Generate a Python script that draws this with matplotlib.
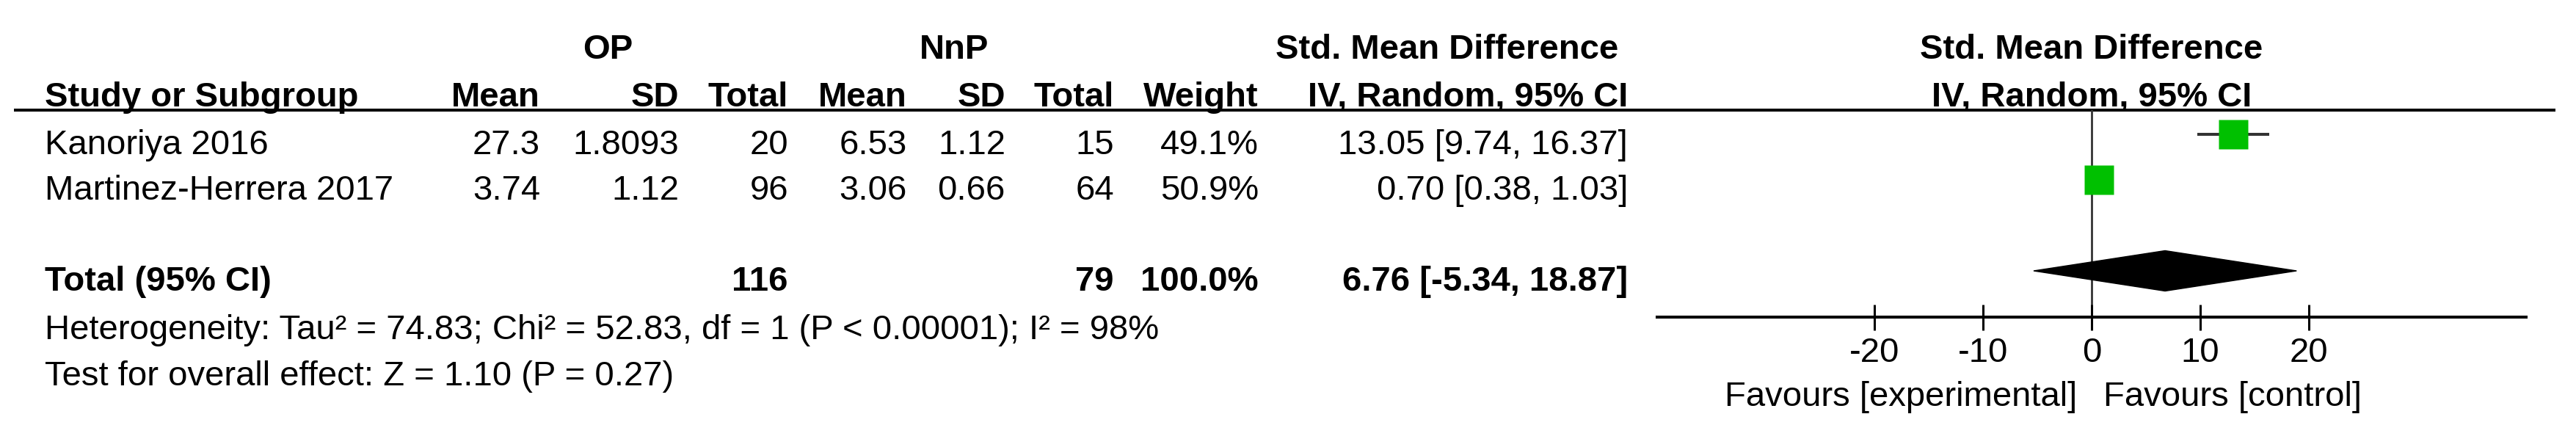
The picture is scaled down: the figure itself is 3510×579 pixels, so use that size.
import matplotlib
matplotlib.use("Agg")
import matplotlib.pyplot as plt
from matplotlib.patches import Polygon
from matplotlib.transforms import blended_transform_factory

plt.rcParams['font.family'] = ['Liberation Sans', 'DejaVu Sans']
plt.rcParams['axes.unicode_minus'] = False

# ---------------- data ----------------
studies = ["Kanoriya 2016", "Martinez-Herrera 2017"]
op_mean = ["27.3", "3.74"]
op_sd = ["1.8093", "1.12"]
op_total = [20, 96]
nnp_mean = ["6.53", "3.06"]
nnp_sd = ["1.12", "0.66"]
nnp_total = [15, 64]
weights = [49.1, 50.9]
smd = [13.05, 0.70]
ci_low = [9.74, 0.38]
ci_high = [16.37, 1.03]

total_label = "Total (95% CI)"
total_op = 116
total_nnp = 79
total_weight = 100.0
total_smd = 6.76
total_low = -5.34
total_high = 18.87

heterogeneity = "Heterogeneity: Tau\u00b2 = 74.83; Chi\u00b2 = 52.83, df = 1 (P < 0.00001); I\u00b2 = 98%"
overall = "Test for overall effect: Z = 1.10 (P = 0.27)"
x_ticks = [-20, -10, 0, 10, 20]
x_range = [-40, 40]
favours_left = "Favours [experimental]"
favours_right = "Favours [control]"

# ---------------- layout ----------------
W, H = 3510, 579
DPI = 100
FS = 34
GREEN = '#00C000'
DARK = '#333333'

fig = plt.figure(figsize=(W / DPI, H / DPI), dpi=DPI)
fig.patch.set_facecolor('white')
tab = fig.add_axes([0, 0, 1, 1])
tab.set_xlim(0, W)
tab.set_ylim(H, 0)
tab.axis('off')

X_LEFT = 61
C_OP_MEAN, C_OP_SD, C_OP_TOT = 736, 925, 1074
C_NNP_MEAN, C_NNP_SD, C_NNP_TOT = 1236, 1370, 1518
C_WEIGHT, C_CI = 1715, 2218

ROW0_PX, ROW_PITCH = 183, 62
TEXT_DY = 27  # baseline offset below row centre
TOTAL_ROW = 3

HDR1_Y, HDR2_Y, HLINE_Y = 80, 145, 150
HET_Y, OVR_Y = 462, 525
FAV_Y = 553

PX0, PX1, AX_Y = 2258, 3442, 432


def txt(x, y, s, ha='right', bold=False, **kw):
    tab.text(x, y, s, ha=ha, va='baseline', fontsize=FS,
             fontweight='bold' if bold else 'normal', color='black', **kw)


# top header
txt(828, HDR1_Y, "OP", ha='center', bold=True)
txt(1300, HDR1_Y, "NnP", ha='center', bold=True)
txt(1972, HDR1_Y, "Std. Mean Difference", ha='center', bold=True)

txt(X_LEFT, HDR2_Y, "Study or Subgroup", ha='left', bold=True)
for x, s in [(C_OP_MEAN, "Mean"), (C_OP_SD, "SD"), (C_OP_TOT, "Total"),
             (C_NNP_MEAN, "Mean"), (C_NNP_SD, "SD"), (C_NNP_TOT, "Total"),
             (C_WEIGHT, "Weight"), (C_CI, "IV, Random, 95% CI")]:
    txt(x, HDR2_Y, s, bold=True)

tab.hlines(HLINE_Y, 19, 3482, color='black', lw=2.9)

# study rows
for i, name in enumerate(studies):
    y = ROW0_PX + ROW_PITCH * i + TEXT_DY
    txt(X_LEFT, y, name, ha='left')
    txt(C_OP_MEAN, y, op_mean[i])
    txt(C_OP_SD, y, op_sd[i])
    txt(C_OP_TOT, y, str(op_total[i]))
    txt(C_NNP_MEAN, y, nnp_mean[i])
    txt(C_NNP_SD, y, nnp_sd[i])
    txt(C_NNP_TOT, y, str(nnp_total[i]))
    txt(C_WEIGHT, y, f"{weights[i]:.1f}%")
    txt(C_CI, y, f"{smd[i]:.2f} [{ci_low[i]:.2f}, {ci_high[i]:.2f}]")

# total row
yt = ROW0_PX + ROW_PITCH * TOTAL_ROW + TEXT_DY
txt(X_LEFT, yt, total_label, ha='left', bold=True)
txt(C_OP_TOT, yt, str(total_op), bold=True)
txt(C_NNP_TOT, yt, str(total_nnp), bold=True)
txt(C_WEIGHT, yt, f"{total_weight:.1f}%", bold=True)
txt(C_CI, yt, f"{total_smd:.2f} [{total_low:.2f}, {total_high:.2f}]", bold=True)

txt(X_LEFT, HET_Y, heterogeneity, ha='left')
txt(X_LEFT, OVR_Y, overall, ha='left')

# ---------------- forest panel ----------------
fa = fig.add_axes([PX0 / W, 1 - AX_Y / H, (PX1 - PX0) / W, (AX_Y - HLINE_Y) / H])
fa.set_xlim(*x_range)
fa.set_ylim((AX_Y - ROW0_PX) / ROW_PITCH, (HLINE_Y - ROW0_PX) / ROW_PITCH)
fa.patch.set_alpha(0)
for s in ['top', 'left', 'right']:
    fa.spines[s].set_visible(False)
fa.spines['bottom'].set_linewidth(2.9)
fa.set_yticks([])
fa.set_xticks(x_ticks)
fa.set_xticklabels([str(t) for t in x_ticks])
fa.tick_params(axis='x', direction='inout', length=25.2, width=2.2,
               pad=6.5, labelsize=FS, colors='black')

fa.axvline(0, color=DARK, lw=2.0, zorder=1)

for i in range(len(studies)):
    fa.hlines(i, ci_low[i], ci_high[i], color=DARK, lw=2.9, zorder=2)
    ms = 28.5 * (weights[i] / 50.0) ** 0.5
    fa.plot(smd[i], i, marker='s', ms=ms, color=GREEN, mec='none',
            linestyle='none', zorder=3)

h = 27.5 / ROW_PITCH
diamond = Polygon([(total_low, TOTAL_ROW), (total_smd, TOTAL_ROW - h),
                   (total_high, TOTAL_ROW), (total_smd, TOTAL_ROW + h)],
                  closed=True, facecolor='black', edgecolor='black', lw=1, zorder=3)
fa.add_patch(diamond)

# headers above forest panel, centred on the zero line
btr = blended_transform_factory(fa.transData, tab.transData)
tab.text(0, HDR1_Y, "Std. Mean Difference", transform=btr, ha='center', va='baseline',
         fontsize=FS, fontweight='bold')
tab.text(0, HDR2_Y, "IV, Random, 95% CI", transform=btr, ha='center', va='baseline',
         fontsize=FS, fontweight='bold')

txt(2830, FAV_Y, favours_left, ha='right')
txt(2866, FAV_Y, favours_right, ha='left')

fig.savefig("out.png", dpi=DPI, facecolor='white')
